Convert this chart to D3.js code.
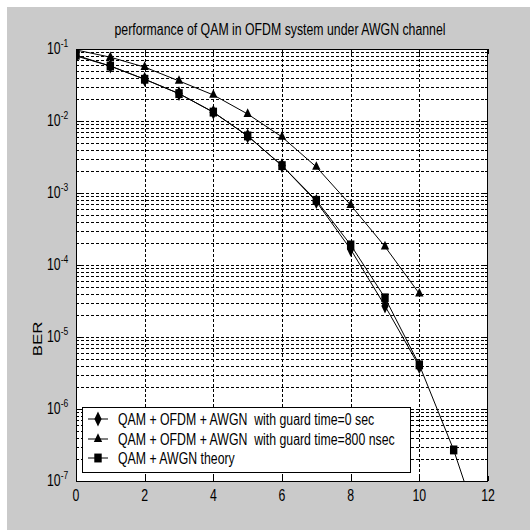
<!DOCTYPE html>
<html>
<head>
<meta charset="utf-8">
<script src="https://cdn.jsdelivr.net/npm/d3@7"></script>
<style>
  body { margin: 0; background: #fff; }
  text { font-family: "Liberation Sans", Arial, sans-serif; fill: #000; white-space: pre; }
</style>
</head>
<body>
<script>
const w = 530;
const h = 530;

// SNR (dB) and BER
const snr = [0, 1, 2, 3, 4, 5, 6, 7, 8, 9, 10, 11, 12];
const berGuard0 = [0.080, 0.058, 0.038, 0.024, 0.0132, 0.0062, 0.0024, 7.6e-4, 1.65e-4, 2.7e-5, 3.9e-6];
const berGuard800 = [0.097, 0.077, 0.056, 0.036, 0.023, 0.0125, 0.0060, 0.0023, 6.8e-4, 1.8e-4, 4.0e-5];
const berTheory = [0.082, 0.058, 0.038, 0.024, 0.0133, 0.0062, 0.0024, 7.9e-4, 1.9e-4, 3.5e-5, 4.1e-6, 2.7e-7, 1.0e-8];

const xTicks = [0, 2, 4, 6, 8, 10, 12];
const yExps = [-1, -2, -3, -4, -5, -6, -7];
const legendLabels = [
  "QAM + OFDM + AWGN  with guard time=0 sec",
  "QAM + OFDM + AWGN  with guard time=800 nsec",
  "QAM + AWGN theory"
];
const title = "performance of QAM in OFDM system under AWGN channel";

const pLeft = 76, pRight = 488, pTop = 49, pBottom = 481;
const stretch = 1.37;   // the picture is stretched vertically, text too
const fs = 12.3;

let svg = d3.select("body")
            .append("svg")
                .attr("width", w)
                .attr("height", h);

svg.append("rect")
    .attr("x", 7).attr("y", 7)
    .attr("width", w - 7).attr("height", h - 7)
    .attr("fill", "#cacaca");

let x = d3.scaleLinear().domain([0, 12]).range([pLeft, pRight]);
let y = d3.scaleLog().domain([1e-7, 1e-1]).range([pBottom, pTop]);

svg.append("defs").append("clipPath").attr("id", "plotclip")
    .append("rect")
    .attr("x", pLeft).attr("y", pTop)
    .attr("width", pRight - pLeft).attr("height", pBottom - pTop);

svg.append("rect")
    .attr("x", pLeft).attr("y", pTop)
    .attr("width", pRight - pLeft).attr("height", pBottom - pTop)
    .attr("fill", "#fff");

// text helper, stretched vertically like the original
function label(g, tx, ty, str, size, anchor, rot) {
    return g.append("text")
        .attr("transform", "translate(" + tx + "," + ty + ") scale(1," + stretch + ")" + (rot ? " rotate(" + rot + ")" : ""))
        .attr("text-anchor", anchor || "start")
        .attr("font-size", size)
        .text(str);
}

// grid
let minorVals = [];
for (let e = -7; e < -1; e++) {
    for (let m = 1; m < 10; m++) minorVals.push(m * Math.pow(10, e));
}
minorVals.push(1e-1);

let grid = svg.append("g");
grid.selectAll(".hgrid")
    .data(minorVals.filter(v => v > 1e-7 && v < 1e-1))
    .enter().append("line")
    .attr("x1", pLeft).attr("x2", pRight)
    .attr("y1", d => Math.round(y(d)) + 0.5)
    .attr("y2", d => Math.round(y(d)) + 0.5)
    .attr("stroke", "#000")
    .attr("stroke-dasharray", "3,2");
grid.selectAll(".vgrid")
    .data(xTicks.slice(1, -1))
    .enter().append("line")
    .attr("x1", d => Math.round(x(d)) + 0.5)
    .attr("x2", d => Math.round(x(d)) + 0.5)
    .attr("y1", pTop).attr("y2", pBottom)
    .attr("stroke", "#000")
    .attr("stroke-dasharray", "3,2");

// ticks (inside, on all four sides)
let ticks = svg.append("g").attr("stroke", "#000");
minorVals.forEach(v => {
    let isMajor = Math.abs(Math.log10(v) - Math.round(Math.log10(v))) < 1e-9;
    let len = isMajor ? 5 : 3;
    let yy = Math.round(y(v)) + 0.5;
    ticks.append("line").attr("x1", pLeft).attr("x2", pLeft + len).attr("y1", yy).attr("y2", yy);
    ticks.append("line").attr("x1", pRight).attr("x2", pRight - len).attr("y1", yy).attr("y2", yy);
});
xTicks.forEach(t => {
    let xx = Math.round(x(t)) + 0.5;
    ticks.append("line").attr("x1", xx).attr("x2", xx).attr("y1", pBottom).attr("y2", pBottom - 5);
    ticks.append("line").attr("x1", xx).attr("x2", xx).attr("y1", pTop).attr("y2", pTop + 5);
});

// series
const series = [
    { vals: berGuard0, shape: d3.symbolDiamond, size: 45 },
    { vals: berGuard800, shape: d3.symbolTriangle, size: 30 },
    { vals: berTheory, shape: d3.symbolSquare, size: 55 }
];

let line = d3.line()
    .x((d, i) => x(snr[i]))
    .y(d => y(d));

let plot = svg.append("g").attr("clip-path", "url(#plotclip)");
series.forEach(s => {
    plot.append("path")
        .attr("d", line(s.vals))
        .attr("fill", "none")
        .attr("stroke", "#000")
        .attr("stroke-width", 1);
    plot.selectAll(null)
        .data(s.vals)
        .enter().append("path")
        .attr("d", d3.symbol().type(s.shape).size(s.size))
        .attr("transform", (d, i) => "translate(" + x(snr[i]) + "," + y(d) + ") scale(1,1.2)")
        .attr("fill", "#000");
});

// frame
svg.append("rect")
    .attr("x", pLeft + 0.5).attr("y", pTop + 0.5)
    .attr("width", pRight - pLeft - 1).attr("height", pBottom - pTop)
    .attr("fill", "none")
    .attr("stroke", "#000");

// axis labels
let labels = svg.append("g");
xTicks.forEach(t => label(labels, x(t), 501, t, fs, "middle"));
yExps.forEach(e => {
    let t = labels.append("text")
        .attr("transform", "translate(47," + (y(Math.pow(10, e)) + 5) + ") scale(1," + stretch + ")")
        .attr("font-size", fs);
    t.append("tspan").text("10");
    t.append("tspan").attr("font-size", 8.5).attr("dy", -5).text(e);
});
label(labels, 42, 339, "BER", fs, "middle", -90);
label(labels, 280, 35, title, fs, "middle");

// legend
let lg = svg.append("g");
lg.append("rect")
    .attr("x", 82.5).attr("y", 407.5)
    .attr("width", 328).attr("height", 65)
    .attr("fill", "#fff")
    .attr("stroke", "#000");
const rowY = [419, 439, 458];
series.forEach((s, i) => {
    lg.append("line")
        .attr("x1", 88).attr("x2", 108)
        .attr("y1", rowY[i]).attr("y2", rowY[i])
        .attr("stroke", "#000");
    lg.append("path")
        .attr("d", d3.symbol().type(s.shape).size(s.size))
        .attr("transform", "translate(98," + rowY[i] + ") scale(1,1.2)")
        .attr("fill", "#000");
    label(lg, 118, rowY[i] + 6, legendLabels[i], fs, "start");
});
</script>
</body>
</html>
